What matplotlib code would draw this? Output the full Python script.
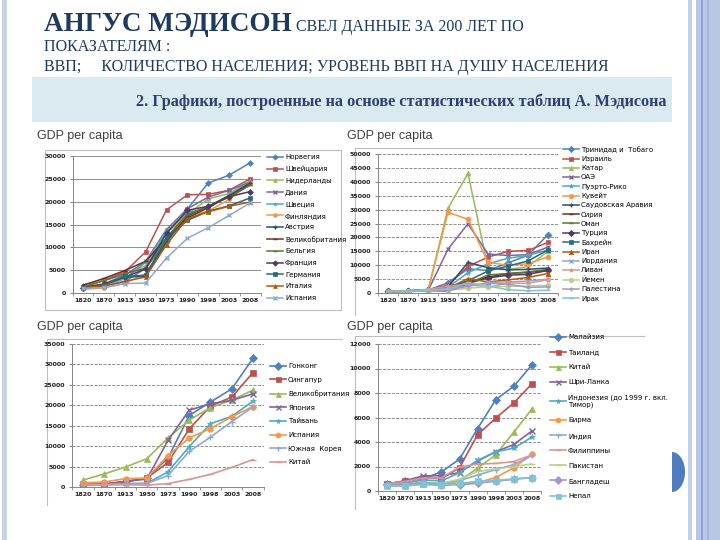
import matplotlib
matplotlib.use('Agg')
import matplotlib.pyplot as plt
from matplotlib.patches import Rectangle, Ellipse
from matplotlib.ticker import FixedLocator

years = ['1820', '1870', '1913', '1950', '1973', '1990', '1998', '2003', '2008']

# Western Europe
eu_names = ['Норвегия', 'Швейцария', 'Нидерланды', 'Дания', 'Швеция', 'Финляндия', 'Австрия',
            'Великобритания', 'Бельгия', 'Франция', 'Германия', 'Италия', 'Испания']
eu_vals = [
    [1100, 1500, 2500, 5400, 11300, 18400, 24100, 25800, 28500],
    [1280, 2800, 4600, 9000, 18200, 21500, 21600, 22500, 25000],
    [1800, 2750, 4050, 6000, 13100, 17300, 20600, 21800, 24600],
    [1270, 2000, 3900, 6900, 13900, 18450, 21000, 22500, 24300],
    [1200, 1660, 3100, 6700, 13500, 17600, 18600, 21500, 24200],
    [780, 1140, 2100, 4250, 11100, 16900, 17900, 20500, 24000],
    [1220, 1860, 3460, 3700, 11200, 16900, 19000, 21300, 24100],
    [1700, 3190, 4920, 6940, 12000, 16430, 18700, 21200, 23700],
    [1320, 2690, 4220, 5460, 12200, 17200, 19000, 21000, 23600],
    [1140, 1880, 3490, 5270, 13100, 18100, 19000, 21100, 22200],
    [1080, 1840, 3650, 3880, 12000, 15900, 17900, 19100, 20800],
    [1120, 1500, 2560, 3500, 10600, 16300, 17800, 19000, 19900],
    [1010, 1210, 2060, 2190, 7660, 12000, 14300, 17000, 19700],
]

# Middle East
me_names = ['Тринидад и  Тобаго', 'Израиль', 'Катар', 'ОАЭ', 'Пуэрто-Рико', 'Кувейт',
            'Саудовская Аравия', 'Сирия', 'Оман', 'Турция', 'Бахрейн', 'Иран', 'Иордания',
            'Ливан', 'Йемен', 'Палестина', 'Ирак']
me_vals = [
    [500, 700, 1000, 3700, 8700, 8100, 10800, 13600, 21000],
    [600, 700, 1200, 2800, 9600, 12900, 15000, 15300, 18200],
    [500, 600, 800, 30500, 43000, 9000, 8500, 9500, 15000],
    [500, 600, 800, 15800, 24900, 14000, 13500, 13800, 16500],
    [600, 700, 1000, 2100, 7300, 10500, 12500, 13500, 15500],
    [500, 600, 800, 29000, 26500, 11000, 10000, 10500, 13000],
    [500, 600, 800, 2200, 11000, 9100, 8300, 8500, 9000],
    [700, 800, 1000, 2400, 4000, 5700, 7000, 7400, 8300],
    [500, 600, 700, 600, 3300, 6500, 7000, 7600, 8500],
    [640, 820, 1200, 1600, 3500, 5400, 6400, 6700, 8100],
    [600, 700, 900, 2100, 4400, 7900, 9700, 11500, 15500],
    [590, 720, 1000, 1700, 5200, 4000, 4700, 5600, 7000],
    [600, 700, 900, 1700, 2400, 3800, 4000, 4300, 5000],
    [600, 750, 1300, 2400, 3200, 2000, 3600, 3500, 4800],
    [500, 550, 650, 900, 1750, 2300, 2400, 2500, 2800],
    [500, 600, 800, 950, 2500, 3500, 3200, 2000, 2200],
    [600, 700, 1000, 1400, 3800, 2500, 1200, 800, 1000],
]

# East Asia
ea_names = ['Гонконг', 'Сингапур', 'Великобритания', 'Япония', 'Тайвань', 'Испания',
            'Южная  Корея', 'Китай']
ea_vals = [
    [600, 700, 1300, 2200, 7100, 17500, 20800, 24000, 31500],
    [600, 700, 1300, 2200, 6000, 14200, 19800, 22000, 28000],
    [1700, 3200, 4900, 6900, 12000, 16400, 19400, 21300, 23700],
    [670, 740, 1390, 1920, 11400, 18800, 20400, 21200, 22800],
    [550, 550, 750, 920, 3700, 9900, 15500, 17300, 21000],
    [1010, 1210, 2060, 2190, 7700, 12000, 14300, 17200, 19700],
    [600, 600, 870, 850, 2800, 8700, 12200, 16000, 19600],
    [600, 530, 550, 450, 840, 1870, 3100, 4800, 6700],
]

# South and South-East Asia
sa_names = ['Малайзия', 'Таиланд', 'Китай', 'Шри-Ланка', 'Индонезия (до 1999 г. вкл.\nТимор)',
            'Бирма', 'Индия', 'Филиппины', 'Пакистан', 'Бангладеш', 'Непал']
sa_vals = [
    [600, 800, 1000, 1560, 2600, 5100, 7450, 8550, 10300],
    [570, 800, 1100, 1000, 1900, 4600, 5950, 7200, 8750],
    [600, 530, 550, 450, 840, 1870, 2950, 4800, 6700],
    [550, 850, 1230, 1250, 1500, 2450, 3200, 3800, 4900],
    [610, 650, 900, 820, 1500, 2500, 3200, 3500, 4400],
    [500, 500, 690, 400, 630, 680, 1100, 1900, 3000],
    [530, 530, 670, 620, 850, 1300, 1750, 2150, 2900],
    [580, 780, 1070, 1070, 1960, 2200, 2250, 2400, 2950],
    [530, 530, 700, 640, 950, 1600, 1800, 2000, 2200],
    [530, 530, 700, 540, 500, 640, 800, 950, 1100],
    [400, 400, 540, 500, 620, 800, 850, 1000, 1100],
]

base = ['#4F81BD', '#C0504D', '#9BBB59', '#8064A2', '#4BACC6', '#F79646']
dark = ['#2C4D75', '#772C2A', '#5F7530', '#4D3B62', '#276A7C', '#B65708']
light = ['#8EA9D8', '#D99694', '#B9CF8A', '#A795C4', '#7FC3D6', '#F9AB6B']
markers = ['D', 's', '^', 'x', '*', 'o', '+', '_', '_']

W, H = 720, 540
fig = plt.figure(figsize=(7.2, 5.4), dpi=100)
fig.patch.set_facecolor('white')

bg = fig.add_axes([0, 0, 1, 1], zorder=0)
bg.set_xlim(0, W)
bg.set_ylim(H, 0)
bg.axis('off')

# slide decorations
bg.add_patch(Rectangle((2, 0), 5, H, color='#C9D1EA', lw=0))
bg.add_patch(Rectangle((688, 0), 4, H, color='#C8D0E8', lw=0))
bg.add_patch(Rectangle((696, 0), 24, H, color='#BAC6E6', lw=0))
bg.add_patch(Rectangle((701, 0), 2, H, color='#8EA2D5', lw=0))
bg.add_patch(Rectangle((707, 0), 2, H, color='#A6B5DE', lw=0))
half = Ellipse((672, 472), 26, 40, color='#4F7DC0', lw=0)
bg.add_patch(half)
half.set_clip_path(Rectangle((672, 440), 20, 70, transform=bg.transData))

serif = 'Liberation Serif'
navy = '#1F3A60'
bg.text(44, 31, 'АНГУС МЭДИСОН', family=serif, weight='bold', fontsize=19.5, color=navy)
bg.text(296, 31, 'СВЕЛ ДАННЫЕ ЗА 200 ЛЕТ ПО', family=serif, fontsize=11.5, color=navy)
bg.text(44, 51, 'ПОКАЗАТЕЛЯМ :', family=serif, fontsize=11.5, color=navy)
bg.text(44, 71, 'ВВП;     КОЛИЧЕСТВО НАСЕЛЕНИЯ; УРОВЕНЬ ВВП НА ДУШУ НАСЕЛЕНИЯ',
        family=serif, fontsize=11.5, color=navy)

bg.add_patch(Rectangle((32, 77), 640, 45, color='#DBEAF0', lw=0))
bg.text(667, 102, '2. Графики, построенные на основе статистических таблиц А. Мэдисона',
        family=serif, weight='bold', fontsize=11.7, color='#2F3F73', ha='right', va='center')

for x, y in [(37, 136), (347, 136), (37, 327), (347, 327)]:
    bg.text(x, y, 'GDP per capita', family='Liberation Sans', fontsize=9, color='#404040', va='center')

fc = '#BFBFBF'
bg.add_patch(Rectangle((45, 150), 296, 160, fill=False, ec=fc, lw=0.8))
bg.plot([355, 355, 560], [315, 148, 148], color=fc, lw=0.8)
bg.plot([47, 47, 342], [505, 339, 339], color=fc, lw=0.8)
bg.plot([355, 355, 644], [509, 336, 336], color=fc, lw=0.8)


def panel(box, names, vals, colors, ymax, step, grid_style, leg_xy, leg_space, ms, lw):
    l, t, r, b = box
    ax = fig.add_axes([l / W, 1 - b / H, (r - l) / W, (b - t) / H], zorder=2)
    ax.set_facecolor('none')
    xs = list(range(len(years)))
    for i, (name, v) in enumerate(zip(names, vals)):
        m = markers[i % len(markers)]
        ax.plot(xs, v, color=colors[i], lw=lw, marker=m, ms=ms,
                mew=1.0 if m in 'x+_' else 0.5, label=name)
    ax.set_xlim(-0.5, len(years) - 0.5)
    ax.set_ylim(0, ymax)
    ax.set_xticks(xs)
    ax.set_xticklabels(years)
    ax.xaxis.set_minor_locator(FixedLocator([k - 0.5 for k in range(len(years) + 1)]))
    ax.set_yticks(range(0, ymax + 1, step))
    ax.tick_params(axis='x', which='major', length=0, pad=3.5, labelsize=4.5, labelcolor='#222222')
    ax.tick_params(axis='x', which='minor', length=2, color='#868686')
    ax.tick_params(axis='y', length=2, pad=3, labelsize=4.5, color='#868686', labelcolor='#222222')
    for lab in ax.get_xticklabels() + ax.get_yticklabels():
        lab.set_fontweight('bold')
    ax.grid(axis='y', color='#7F7F7F', lw=0.6, ls=grid_style)
    ax.set_axisbelow(True)
    for s in ['top', 'right']:
        ax.spines[s].set_visible(False)
    for s in ['left', 'bottom']:
        ax.spines[s].set_color('#868686')
        ax.spines[s].set_linewidth(0.7)
    lx, ly = leg_xy
    ax.legend(loc='upper left', bbox_to_anchor=(lx / W, 1 - ly / H), bbox_transform=fig.transFigure,
              frameon=False, fontsize=5, borderpad=0, borderaxespad=0, handlelength=2.3,
              handletextpad=0.3, labelspacing=leg_space, markerscale=0.9)
    return ax


panel((72.5, 156, 260.5, 293), eu_names, eu_vals, base + dark + light[:1], 30000, 5000, '-',
      (267, 154), 0.81, 3, 1.1)
panel((378, 154, 558, 293), me_names, me_vals, base + dark + light[:5], 50000, 5000, '--',
      (563, 146), 0.46, 3.5, 1.1)
panel((72.4, 344, 263.6, 487), ea_names, ea_vals, base + light[:2], 35000, 5000, '--',
      (270, 363), 1.1, 4, 1.2)
panel((378, 344, 541, 491), sa_names, sa_vals, base + light[:5], 12000, 2000, '--',
      (550, 334), 1.31, 4, 1.2)

fig.savefig('out.png', dpi=100)
